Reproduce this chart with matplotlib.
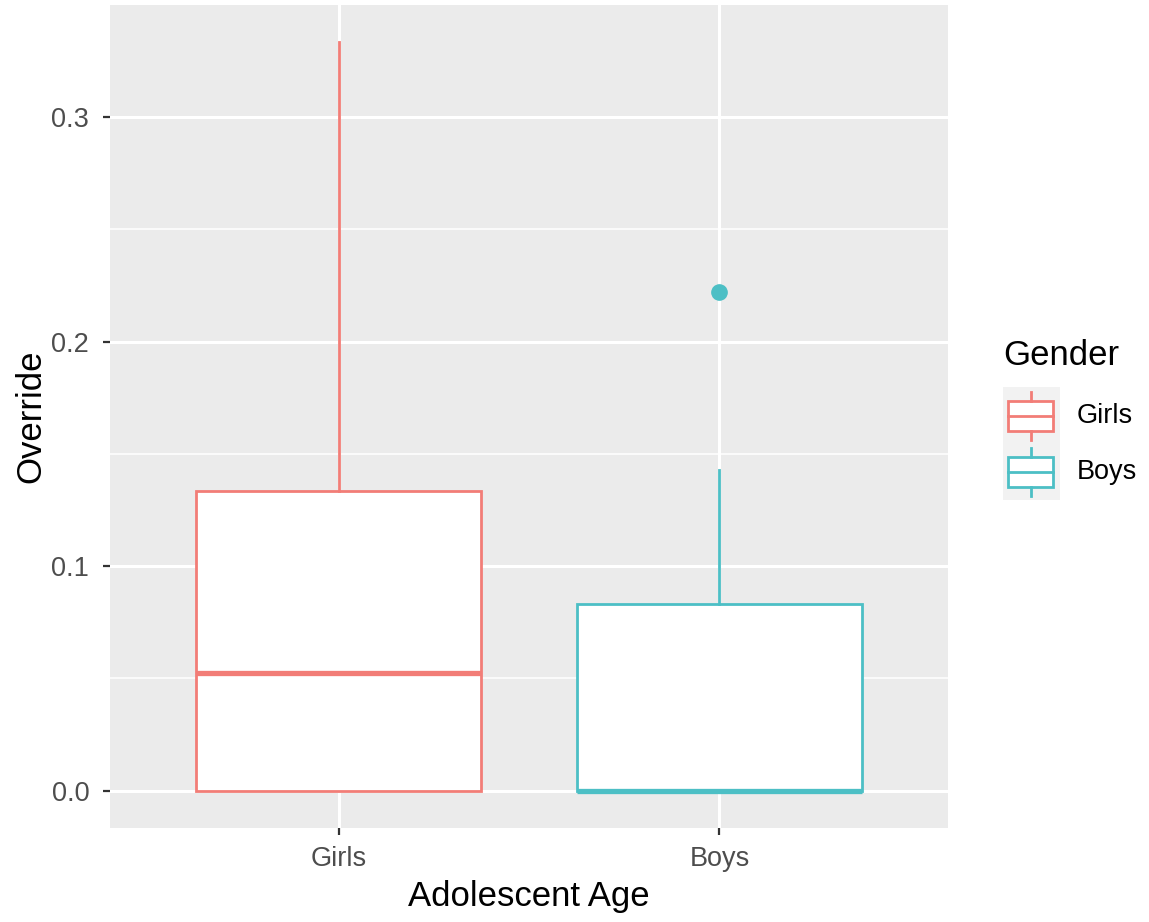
import matplotlib
matplotlib.use("Agg")
import matplotlib.pyplot as plt
from matplotlib.patches import Rectangle
from matplotlib.lines import Line2D

plt.rcParams['font.family'] = ['Liberation Sans', 'DejaVu Sans']

# Data (summary statistics)
categories = ["Girls", "Boys"]
colors = ["#F27D77", "#4CBFC5"]
whisker_low = [0.0, 0.0]
q1 = [0.0, 0.0]
median = [0.0526, 0.0]
q3 = [0.1333, 0.0833]
whisker_high = [0.3333, 0.1429]
outliers = [[], [0.2222]]

W, H = 1149, 922
fig = plt.figure(figsize=(W / 100, H / 100), dpi=100)
fig.patch.set_facecolor("white")

ax = fig.add_axes([110 / W, (H - 828) / H, (948 - 110) / W, (828 - 5) / H])
ax.set_facecolor("#EBEBEB")

stats = []
for i, c in enumerate(categories):
    stats.append(dict(label=c, whislo=whisker_low[i], q1=q1[i], med=median[i],
                      q3=q3[i], whishi=whisker_high[i], fliers=outliers[i]))

positions = [1, 2]
lw = 2.0
for i, s in enumerate(stats):
    col = colors[i]
    ax.bxp([s], positions=[positions[i]], widths=0.75, patch_artist=True,
           showcaps=False,
           boxprops=dict(facecolor="white", edgecolor=col, linewidth=lw),
           whiskerprops=dict(color=col, linewidth=lw),
           medianprops=dict(color=col, linewidth=lw * 1.9),
           flierprops=dict(marker="o", markerfacecolor=col, markeredgecolor=col,
                           markersize=11, linestyle="none"),
           zorder=3)

ax.set_xlim(0.4, 2.6)
ax.set_ylim(-0.01667, 0.35)
ax.set_xticks(positions)
ax.set_xticklabels(categories)
ax.set_yticks([0.0, 0.1, 0.2, 0.3])
ax.set_yticklabels(["0.0", "0.1", "0.2", "0.3"])
ax.set_yticks([0.05, 0.15, 0.25], minor=True)
ax.grid(True, which="major", color="white", linewidth=2.2, zorder=0)
ax.grid(True, which="minor", axis="y", color="white", linewidth=1.1, zorder=0)
ax.set_axisbelow(True)
for sp in ax.spines.values():
    sp.set_visible(False)
ax.tick_params(axis="both", which="major", length=5, width=1.6, color="#333333",
               labelsize=19.5, labelcolor="#4D4D4D")
ax.tick_params(axis="x", which="major", pad=8)
ax.tick_params(axis="y", which="major", pad=10)
ax.tick_params(axis="both", which="minor", length=0)
ax.set_xlabel("Adolescent Age", fontsize=25, color="black", labelpad=6)
ax.set_ylabel("Override", fontsize=25, color="black", labelpad=3)

# Legend (drawn in figure pixel coordinates)
def fx(x):
    return x / W

def fy(y):
    return (H - y) / H

fig.text(fx(1003), fy(355), "Gender", fontsize=25, color="black", va="center", ha="left")
fig.patches.append(Rectangle((fx(1003), fy(500)), fx(1060) - fx(1003), fy(387) - fy(500),
                             transform=fig.transFigure, facecolor="#F2F2F2", edgecolor="none"))
key_centers = [416, 472]
for i, c in enumerate(categories):
    col = colors[i]
    yc = key_centers[i]
    fig.patches.append(Rectangle((fx(1008), fy(yc + 15)), fx(1053) - fx(1008), fy(yc - 15) - fy(yc + 15),
                                 transform=fig.transFigure, facecolor="white", edgecolor=col, linewidth=lw))
    fig.lines.append(Line2D([fx(1008), fx(1053)], [fy(yc), fy(yc)], transform=fig.transFigure,
                            color=col, linewidth=lw))
    fig.lines.append(Line2D([fx(1031), fx(1031)], [fy(yc - 15), fy(yc - 24)], transform=fig.transFigure,
                            color=col, linewidth=lw))
    fig.lines.append(Line2D([fx(1031), fx(1031)], [fy(yc + 15), fy(yc + 24)], transform=fig.transFigure,
                            color=col, linewidth=lw))
    fig.text(fx(1077), fy(yc), c, fontsize=19.5, color="black", va="center", ha="left")

fig.savefig("out.png", dpi=100)
